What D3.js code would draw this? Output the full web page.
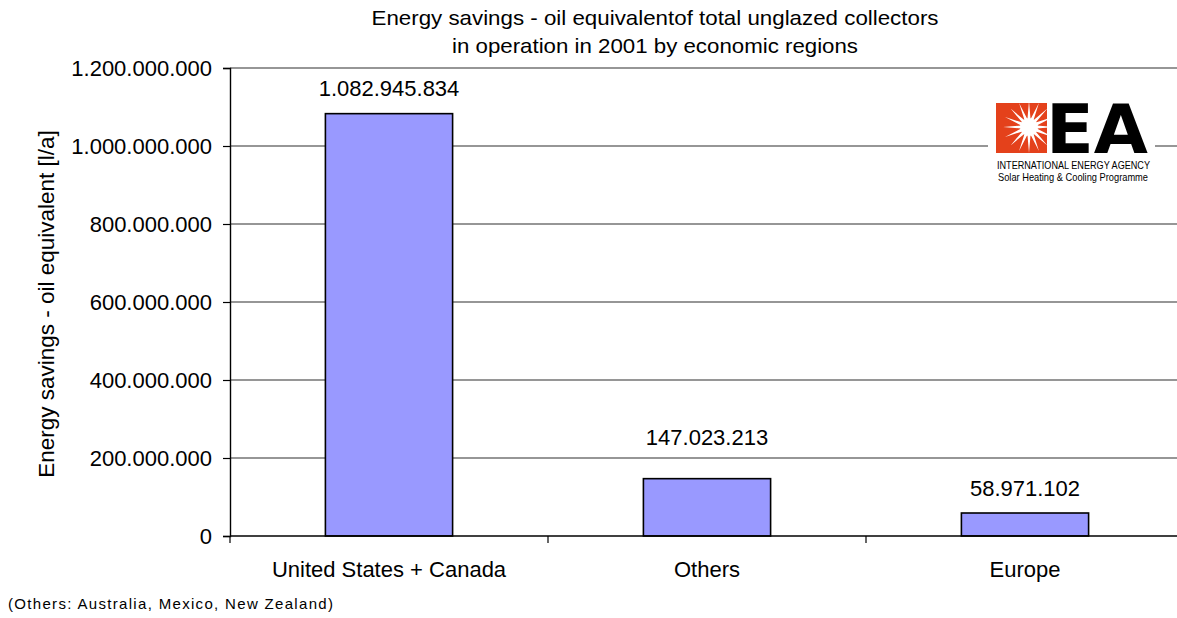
<!DOCTYPE html>
<html>
<head>
<meta charset="utf-8">
<style type="text/css">
  body { margin: 0; background: #fff; }
  svg { display: block; font-family: "Liberation Sans", Arial, sans-serif; }
  .bar { fill: #9999ff; stroke: #000; stroke-width: 1.6; }
  .grid line { stroke: #2e2e2e; stroke-width: 1.2; }
</style>
</head>
<body>
<svg width="1177" height="618"></svg>
<script src="https://d3js.org/d3.v7.min.js"></script>
<script>

var regions = ["United States + Canada", "Others", "Europe"];
var savings = [1082945834, 147023213, 58971102];
var yTicks = [0, 200000000, 400000000, 600000000, 800000000, 1000000000, 1200000000];
var titleLines = ["Energy savings - oil equivalentof total unglazed collectors",
                  "in operation in 2001 by economic regions"];
var yTitle = "Energy savings - oil equivalent [l/a]";
var footnote = "(Others: Australia, Mexico, New Zealand)";

var svg = d3.select("svg"),
    margin = {top: 68, right: -7, bottom: 82, left: 230},
    width = +svg.attr("width") - margin.left - margin.right,
    height = +svg.attr("height") - margin.top - margin.bottom,
    g = svg.append("g").attr("transform", "translate(" + margin.left + "," + margin.top + ")");

var fmt = d3.formatLocale({decimal: ",", thousands: ".", grouping: [3], currency: ["", ""]}).format(",d");

var x = d3.scaleBand()
    .domain(regions)
    .range([0, width])
    .paddingInner(0.6)
    .paddingOuter(0.3);

var y = d3.scaleLinear()
    .domain([0, 1200000000])
    .range([height, 0]);

// gridlines
g.append("g")
    .attr("class", "grid")
  .selectAll("line")
  .data(yTicks.slice(1))
  .enter().append("line")
    .attr("x1", 0)
    .attr("x2", width)
    .attr("y1", function(d) { return y(d); })
    .attr("y2", function(d) { return y(d); });

// logo (drawn over the gridline, like the pasted picture)
var logo = svg.append("g");
logo.append("rect")
    .attr("x", 988).attr("y", 100).attr("width", 167).attr("height", 88)
    .attr("fill", "#fff");
logo.append("rect")
    .attr("x", 996).attr("y", 103).attr("width", 51).attr("height", 50)
    .attr("fill", "#e4411b");
var sun = [];
for (var i = 0; i < 32; i++) {
  var a = i * Math.PI / 16, r = (i % 2 === 0) ? 26 : 8;
  sun.push([1029 + r * Math.cos(a), 127 + r * Math.sin(a)]);
}
logo.append("clipPath").attr("id", "logoclip")
  .append("rect").attr("x", 996).attr("y", 103).attr("width", 60).attr("height", 50);
logo.append("path")
    .attr("clip-path", "url(#logoclip)")
    .attr("d", d3.line()(sun) + "Z")
    .attr("fill", "#fff");
logo.append("circle").attr("cx", 1029).attr("cy", 127).attr("r", 9).attr("fill", "#fff");
logo.append("text")
    .attr("x", 1046).attr("y", 153)
    .attr("font-family", "DejaVu Sans")
    .attr("font-weight", "bold")
    .attr("font-size", 68)
    .attr("textLength", 102)
    .attr("lengthAdjust", "spacingAndGlyphs")
    .text("EA");
logo.append("text")
    .attr("x", 997).attr("y", 169)
    .attr("font-size", 10.5)
    .attr("textLength", 153)
    .attr("lengthAdjust", "spacingAndGlyphs")
    .text("INTERNATIONAL ENERGY AGENCY");
logo.append("text")
    .attr("x", 998).attr("y", 181)
    .attr("font-size", 10.5)
    .attr("textLength", 150)
    .attr("lengthAdjust", "spacingAndGlyphs")
    .text("Solar Heating & Cooling Programme");

// bars
g.selectAll(".bar")
  .data(regions)
  .enter().append("rect")
    .attr("class", "bar")
    .attr("x", function(d) { return x(d); })
    .attr("width", x.bandwidth())
    .attr("y", function(d, i) { return y(savings[i]); })
    .attr("height", function(d, i) { return height - y(savings[i]); });

// value labels, lifted above a gridline if they would sit on it
g.selectAll(".val")
  .data(regions)
  .enter().append("text")
    .attr("class", "val")
    .attr("x", function(d) { return x(d) + x.bandwidth() / 2; })
    .attr("y", function(d, i) {
      var c = y(savings[i]) - 25;
      yTicks.forEach(function(t) {
        if (Math.abs(y(t) - c) < 11) c = y(t) - 21;
      });
      return c;
    })
    .attr("dy", "0.35em")
    .attr("text-anchor", "middle")
    .attr("font-size", 22)
    .text(function(d, i) { return fmt(savings[i]); });

// y axis
g.append("g")
    .call(d3.axisLeft(y).tickValues(yTicks).tickFormat(fmt).tickSize(7).tickPadding(11))
    .call(function(a) {
      a.select(".domain").attr("stroke", "#000").attr("stroke-width", 1.4);
      a.selectAll(".tick line").attr("stroke", "#000").attr("stroke-width", 1.2);
      a.selectAll("text").attr("font-size", 22).attr("font-family", "Liberation Sans").attr("fill", "#000");
    });

// x axis: ticks between categories
var xa = g.append("g").attr("transform", "translate(0," + height + ")");
xa.append("line").attr("x1", 0).attr("x2", width).attr("stroke", "#000").attr("stroke-width", 1.4);
xa.selectAll(".sep")
  .data(d3.range(regions.length + 1))
  .enter().append("line")
    .attr("x1", function(i) { return i * x.step(); })
    .attr("x2", function(i) { return i * x.step(); })
    .attr("y1", 0).attr("y2", 7)
    .attr("stroke", "#000").attr("stroke-width", 1.2);
xa.selectAll(".cat")
  .data(regions)
  .enter().append("text")
    .attr("x", function(d) { return x(d) + x.bandwidth() / 2; })
    .attr("y", 41)
    .attr("text-anchor", "middle")
    .attr("font-size", 22)
    .text(function(d) { return d; });

// titles
var titleWidths = [567, 406];
svg.selectAll(".title")
  .data(titleLines)
  .enter().append("text")
    .attr("x", 655)
    .attr("y", function(d, i) { return 25 + i * 28; })
    .attr("text-anchor", "middle")
    .attr("font-size", 21)
    .attr("textLength", function(d, i) { return titleWidths[i]; })
    .attr("lengthAdjust", "spacingAndGlyphs")
    .text(function(d) { return d; });

svg.append("text")
    .attr("transform", "translate(54," + (margin.top + height / 2 + 2) + ") rotate(-90)")
    .attr("text-anchor", "middle")
    .attr("font-size", 22.5)
    .text(yTitle);

svg.append("text")
    .attr("x", 8)
    .attr("y", 609)
    .attr("font-size", 15)
    .attr("textLength", 325)
    .attr("lengthAdjust", "spacing")
    .text(footnote);

</script>
</body>
</html>
